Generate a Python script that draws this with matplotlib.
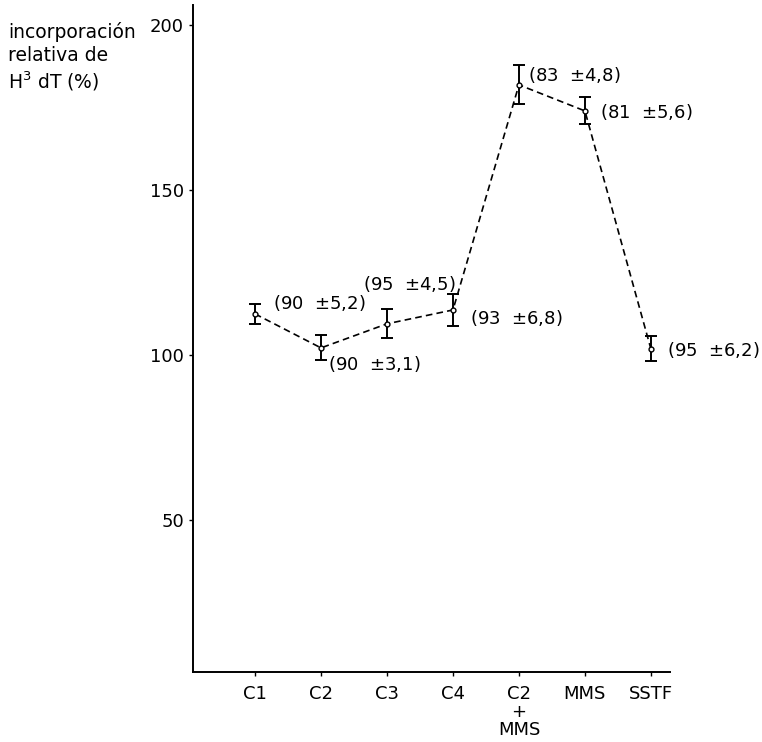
import numpy as np
import matplotlib
matplotlib.use("Agg")
import matplotlib.pyplot as plt

# groups on the x axis
categories = ["C1", "C2", "C3", "C4", "C2\n+\nMMS", "MMS", "SSTF"]
# relative H3 dT incorporation (%) and error bar half-widths
values = [112.4, 102.1, 109.4, 113.6, 181.8, 173.9, 101.8]
errors = [3.0, 3.8, 4.4, 4.8, 5.9, 4.1, 3.8]
# annotations next to the points
notes = ["(90  $\\pm$5,2)", "(90  $\\pm$3,1)", "(95  $\\pm$4,5)", "(93  $\\pm$6,8)",
         "(83  $\\pm$4,8)", "(81  $\\pm$5,6)", "(95  $\\pm$6,2)"]
note_xy = [(1.27, 115.8), (2.11, 97.3), (2.64, 121.5), (4.26, 111.2),
           (5.14, 184.8), (6.23, 173.6), (7.24, 101.5)]
yticks = [50, 100, 150, 200]

plt.rcParams["mathtext.fontset"] = "dejavusans"
fig = plt.figure(figsize=(7.62, 7.42), dpi=100)
ax = fig.add_axes([0.2533, 0.0943, 0.626, 0.899])

x = np.arange(1, len(categories) + 1)
ax.plot(x, values, linestyle=(0, (4, 2.5)), color="black", linewidth=1.2)
ax.errorbar(x, values, yerr=errors, fmt="o", markersize=3.5,
            markerfacecolor="white", markeredgecolor="black",
            ecolor="black", elinewidth=1.4, capsize=4, capthick=1.4)

for txt, (tx, ty) in zip(notes, note_xy):
    ax.text(tx, ty, txt, fontsize=13, va="center", ha="left")

ax.set_xlim(0.06, 7.29)
ax.set_ylim(3.9, 206)
ax.set_xticks(x)
ax.set_xticklabels(categories, fontsize=13, linespacing=1.0)
ax.set_yticks(yticks)
ax.set_yticklabels([str(v) for v in yticks], fontsize=13)
ax.tick_params(length=3, width=1, direction="out")
ax.tick_params(axis="x", pad=6)
ax.spines["top"].set_visible(False)
ax.spines["right"].set_visible(False)
ax.spines["left"].set_linewidth(1.4)
ax.spines["bottom"].set_linewidth(1.4)

fig.text(0.011, 0.97, "incorporación\nrelativa de\nH$^3$ dT (%)",
         fontsize=13.5, va="top", ha="left", linespacing=1.25)

fig.savefig("out.png", dpi=100)
